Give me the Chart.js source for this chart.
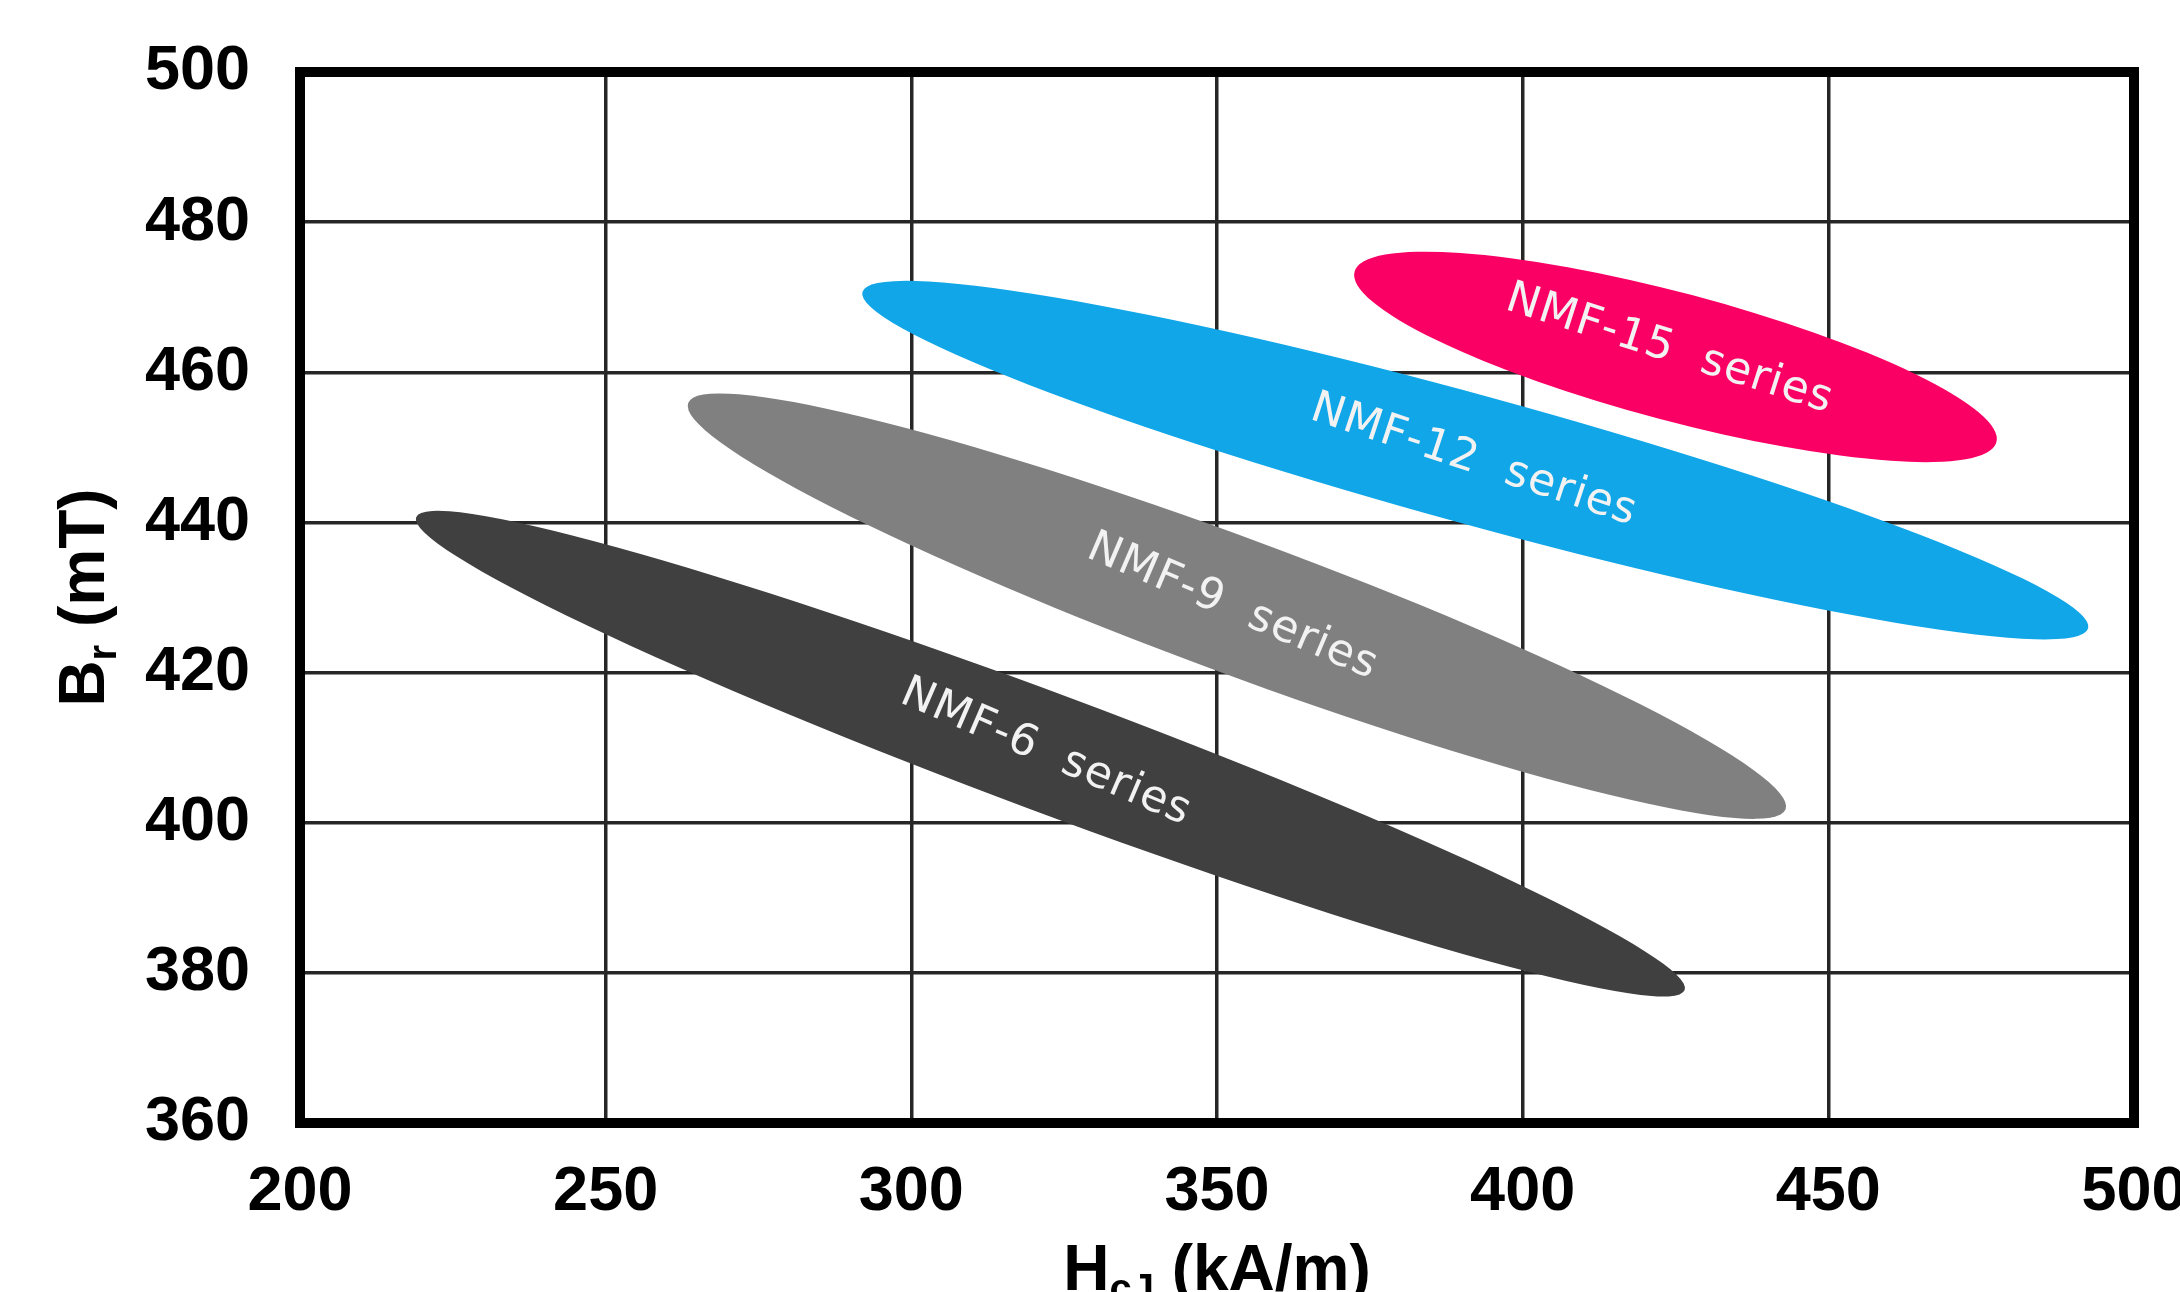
<!DOCTYPE html>
<html>
<head>
<meta charset="utf-8">
<script src="https://cdn.jsdelivr.net/npm/chart.js@4.4.1/dist/chart.umd.min.js"></script>
<style>
  html, body { margin: 0; padding: 0; background: #fff; overflow: hidden; }
  #wrap { position: relative; width: 2234px; height: 1292px; }
</style>
</head>
<body>
<div id="wrap"><canvas id="magnetChart"></canvas></div>
<script>
// Series: each band is an ellipse between two tips
const seriesNames = ['NMF-6  series', 'NMF-9  series', 'NMF-12  series', 'NMF-15  series'];
const hcjStart = [219.0, 263.5, 292.0, 372.5];   // kA/m, left tip
const brStart = [440.7, 455.9, 470.7, 473.4];    // mT, left tip
const hcjEnd = [426.5, 443.0, 492.5, 477.5];     // kA/m, right tip
const brEnd = [377.7, 401.8, 425.9, 450.7];      // mT, right tip
const brHalfSpan = [8.4, 9.6, 8.9, 8.8];         // mT, half of vertical band width at centre
const labelHcj = [322.0, 352.5, 392.0, 424.0];
const labelBr = [409.3, 428.7, 448.2, 463.0];

const xTicks = [200, 250, 300, 350, 400, 450, 500];
const yTicks = [360, 380, 400, 420, 440, 460, 480, 500];

const bandColors = ['#404040', '#808080', '#10a6e8', '#fb0064'];
const axisFont = "'Liberation Sans', Arial, sans-serif";

document.addEventListener('DOMContentLoaded', function () {
  const canvas = document.getElementById('magnetChart');
  if (!canvas) {
    console.error('Canvas element not found for chart rendering');
    return;
  }

  // Draws the ellipses, their labels, the frame and the axis titles
  const ellipsePlugin = {
    id: 'ellipses',
    beforeDatasetsDraw(chart) {
      const ctx = chart.ctx;
      const yScale = chart.scales.y;
      chart.data.datasets.forEach((ds, i) => {
        const pts = chart.getDatasetMeta(i).data;
        if (pts.length < 2) return;
        const p1 = pts[0], p2 = pts[1];
        const cx = (p1.x + p2.x) / 2;
        const cy = (p1.y + p2.y) / 2;
        const theta = Math.atan2(p2.y - p1.y, p2.x - p1.x);
        const a = Math.hypot(p2.x - p1.x, p2.y - p1.y) / 2;
        const h = Math.abs(yScale.getPixelForValue(400) - yScale.getPixelForValue(400 + brHalfSpan[i]));
        const s = Math.sin(theta), c = Math.cos(theta);
        const b = Math.abs(c) / Math.sqrt(1 / (h * h) - (s * s) / (a * a));
        ctx.save();
        ctx.fillStyle = ds.backgroundColor;
        ctx.beginPath();
        ctx.ellipse(cx, cy, a, b, theta, 0, Math.PI * 2);
        ctx.fill();
        ctx.restore();
      });
    },
    afterDatasetsDraw(chart) {
      const ctx = chart.ctx;
      const xScale = chart.scales.x, yScale = chart.scales.y;
      chart.data.datasets.forEach((ds, i) => {
        const pts = chart.getDatasetMeta(i).data;
        const theta = Math.atan2(pts[1].y - pts[0].y, pts[1].x - pts[0].x);
        ctx.save();
        ctx.translate(xScale.getPixelForValue(labelHcj[i]), yScale.getPixelForValue(labelBr[i]));
        ctx.rotate(theta + 0.05);
        ctx.font = "44px 'DejaVu Sans', Verdana, sans-serif";
        ctx.letterSpacing = '1px';
        ctx.fillStyle = '#f2f2f2';
        ctx.textAlign = 'center';
        ctx.textBaseline = 'middle';
        ctx.fillText(ds.label, 0, 0);
        ctx.restore();
      });
    },
    afterDraw(chart) {
      const ctx = chart.ctx;
      const area = chart.chartArea;
      // heavy black frame round the plot
      ctx.save();
      ctx.strokeStyle = '#000';
      ctx.lineWidth = 10;
      ctx.strokeRect(area.left, area.top, area.right - area.left, area.bottom - area.top);
      ctx.restore();

      // text with a subscript part, centred on cxLocal
      function drawSubText(parts, cxLocal, baseline) {
        const big = 'bold 64px ' + axisFont;
        const small = 'bold 40px ' + axisFont;
        let total = 0;
        parts.forEach(p => { ctx.font = p.sub ? small : big; total += ctx.measureText(p.t).width; });
        let x = cxLocal - total / 2;
        parts.forEach(p => {
          ctx.font = p.sub ? small : big;
          ctx.fillText(p.t, x, baseline + (p.sub ? 12 : 0));
          x += ctx.measureText(p.t).width;
        });
      }

      ctx.save();
      ctx.fillStyle = '#000';
      ctx.textAlign = 'left';
      ctx.textBaseline = 'alphabetic';
      // x title
      drawSubText([{ t: 'H' }, { t: 'cJ', sub: true }, { t: ' (kA/m)' }], (area.left + area.right) / 2, 1290);
      // y title
      ctx.translate(104, (area.top + area.bottom) / 2);
      ctx.rotate(-Math.PI / 2);
      drawSubText([{ t: 'B' }, { t: 'r', sub: true }, { t: ' (mT)' }], 0, 0);
      ctx.restore();
    }
  };

  const datasets = seriesNames.map((name, i) => ({
    label: name,
    data: [{ x: hcjStart[i], y: brStart[i] }, { x: hcjEnd[i], y: brEnd[i] }],
    backgroundColor: bandColors[i],
    borderColor: bandColors[i],
    pointRadius: 0,
    pointHoverRadius: 0,
    showLine: false
  }));

  new Chart(canvas.getContext('2d'), {
    type: 'scatter',
    data: { datasets: datasets },
    plugins: [ellipsePlugin],
    options: {
      responsive: true,
      maintainAspectRatio: false,
      animation: false,
      events: [],
      layout: { padding: { top: 72, right: 100, left: 0, bottom: 0 } },
      plugins: {
        legend: { display: false },
        tooltip: { enabled: false }
      },
      scales: {
        x: {
          type: 'linear',
          min: xTicks[0],
          max: xTicks[xTicks.length - 1],
          afterBuildTicks: scale => { scale.ticks = xTicks.map(v => ({ value: v })); },
          afterFit: scale => {
            scale.height = 169;
            scale.paddingLeft = 0;
            scale.paddingRight = 0;
          },
          grid: { color: '#262626', lineWidth: 3.5, drawTicks: false },
          border: { display: false },
          ticks: {
            color: '#000',
            padding: 32,
            maxRotation: 0,
            font: { family: axisFont, size: 63, weight: 'bold' }
          }
        },
        y: {
          type: 'linear',
          min: yTicks[0],
          max: yTicks[yTicks.length - 1],
          afterBuildTicks: scale => { scale.ticks = yTicks.map(v => ({ value: v })); },
          afterFit: scale => {
            scale.width = 300;
            scale.paddingTop = 0;
            scale.paddingBottom = 0;
          },
          grid: { color: '#262626', lineWidth: 3.5, drawTicks: false },
          border: { display: false },
          ticks: {
            color: '#000',
            padding: 50,
            font: { family: axisFont, size: 63, weight: 'bold' }
          }
        }
      }
    }
  });
});
</script>
</body>
</html>
